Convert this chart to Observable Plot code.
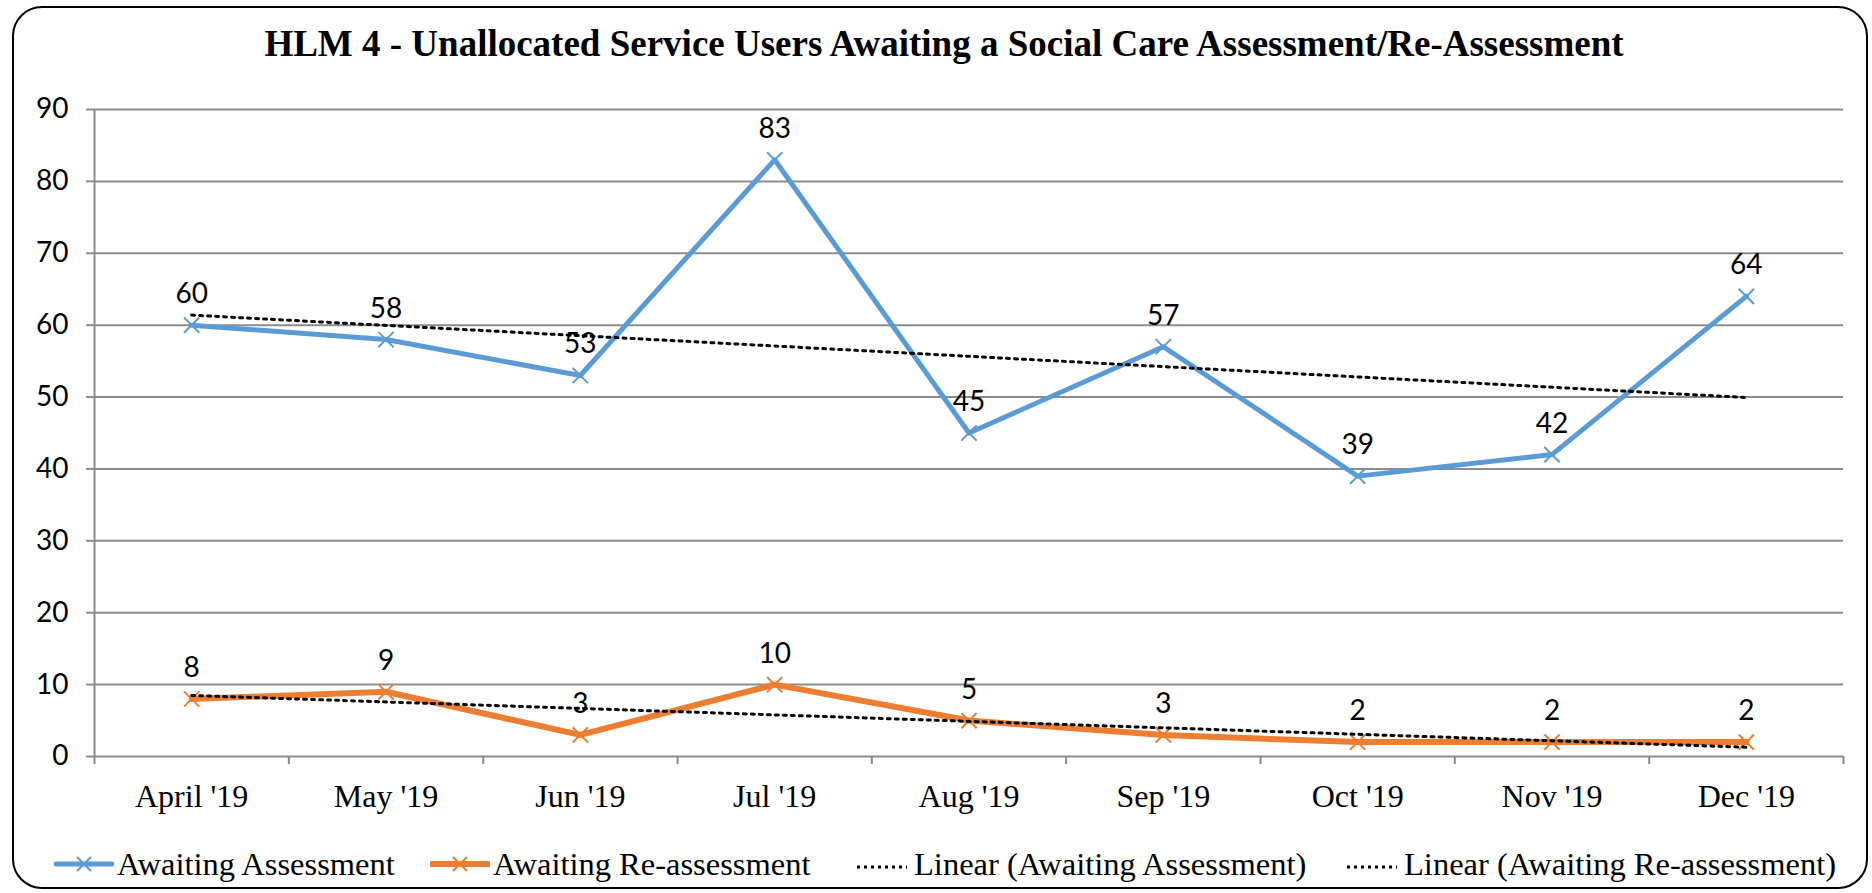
<!DOCTYPE html>
<html>
<head>
<meta charset="utf-8">
<script src="https://cdn.jsdelivr.net/npm/d3@7"></script>
<script src="https://cdn.jsdelivr.net/npm/@observablehq/plot@0.6"></script>
<style>
  html, body { margin: 0; padding: 0; background: #fff; }
  #wrap { position: relative; width: 1872px; height: 893px; overflow: hidden; background: #fff; }
  #frame { position: absolute; left: 12px; top: 6px; width: 1856px; height: 883px; box-sizing: border-box;
           border: 2px solid #000; border-radius: 30px; }
  #title { position: absolute; left: 0; width: 1888px; top: 22px; text-align: center;
           font-family: "Liberation Serif", "Times New Roman", serif; font-weight: bold; font-size: 37px; color: #000; }
  #chart { position: absolute; left: 0; top: 0; }
  .leg { position: absolute; top: 846px; height: 36px; display: flex; align-items: center;
         font-family: "Liberation Serif", "Times New Roman", serif; font-size: 32.5px; color: #000; white-space: nowrap; }
  .leg svg { margin-right: 3px; }
</style>
</head>
<body>
<div id="wrap">
  <div id="frame"></div>
  <div id="title">HLM 4 - Unallocated Service Users Awaiting a Social Care Assessment/Re-Assessment</div>
  <div id="chart"></div>
  <div id="legend"></div>
</div>
<script>
// ---- data ----
const months = ["April '19", "May '19", "Jun '19", "Jul '19", "Aug '19", "Sep '19", "Oct '19", "Nov '19", "Dec '19"];
const assessment = [60, 58, 53, 83, 45, 57, 39, 42, 64];
const reassessment = [8, 9, 3, 10, 5, 3, 2, 2, 2];
const yTicks = [0, 10, 20, 30, 40, 50, 60, 70, 80, 90];
const seriesNames = ["Awaiting Assessment", "Awaiting Re-assessment", "Linear (Awaiting Assessment)", "Linear (Awaiting Re-assessment)"];
const colors = ["#5B9BD5", "#ED7D31"];

const rows = months.map((m, i) => ({i, month: m, a: assessment[i], r: reassessment[i]}));
const idx = d3.range(months.length);
const bounds = d3.range(months.length + 1).map(k => k - 0.5);

const gray = "#8c8c8c";
const dotted = {stroke: "#000", strokeWidth: 3, strokeDasharray: "3,5", ci: 0};

const chart = Plot.plot({
  width: 1872, height: 893,
  marginLeft: 94, marginRight: 29, marginTop: 109, marginBottom: 137,
  x: {type: "linear", domain: [-0.5, months.length - 0.5]},
  y: {domain: [0, 90]},
  style: {background: "transparent", fontFamily: "Lato, 'Open Sans', sans-serif", color: "#000"},
  marks: [
    Plot.gridY(yTicks, {stroke: gray, strokeOpacity: 1, strokeWidth: 2}),
    Plot.axisY(yTicks, {tickSize: 8, tickPadding: 18, fontSize: 28, stroke: gray, strokeWidth: 2, label: null}),
    Plot.ruleX([-0.5], {stroke: gray, strokeWidth: 2}),
    Plot.axisX(bounds, {tickSize: 8, tickFormat: () => "", stroke: gray, strokeWidth: 2, label: null}),
    Plot.axisX(idx, {tickSize: 0, tickPadding: 28, tickFormat: i => months[i], fontSize: 32,
                     fontFamily: "'Liberation Serif', 'Times New Roman', serif", label: null}),
    Plot.line(rows, {x: "i", y: "a", stroke: colors[0], strokeWidth: 5}),
    Plot.line(rows, {x: "i", y: "r", stroke: colors[1], strokeWidth: 6}),
    Plot.dot(rows, {x: "i", y: "a", symbol: "times", r: 7, stroke: colors[0], strokeWidth: 2}),
    Plot.dot(rows, {x: "i", y: "r", symbol: "times", r: 7, stroke: colors[1], strokeWidth: 2}),
    Plot.linearRegressionY(rows, {x: "i", y: "a", ...dotted}),
    Plot.linearRegressionY(rows, {x: "i", y: "r", ...dotted}),
    Plot.text(rows, {x: "i", y: "a", text: "a", dy: -31, fontSize: 28, fill: "#000"}),
    Plot.text(rows, {x: "i", y: "r", text: "r", dy: -31, fontSize: 28, fill: "#000"})
  ]
});
document.getElementById("chart").appendChild(chart);

// ---- legend ----
const legend = document.getElementById("legend");
const legLeft = [54, 430, 851, 1341];
seriesNames.forEach((name, k) => {
  const item = document.createElement("div");
  item.className = "leg";
  item.style.left = legLeft[k] + "px";
  const svg = d3.create("svg").attr("width", 60).attr("height", 30);
  if (k < 2) {
    svg.append("line").attr("x1", 2).attr("x2", 58).attr("y1", 15).attr("y2", 15)
      .attr("stroke", colors[k]).attr("stroke-width", k === 0 ? 5 : 6).attr("stroke-linecap", "round");
    svg.append("path").attr("d", "M23,8L37,22M37,8L23,22").attr("stroke", colors[k]).attr("stroke-width", 2);
  } else {
    svg.append("line").attr("x1", 6).attr("x2", 56).attr("y1", 18).attr("y2", 18)
      .attr("stroke", "#000").attr("stroke-width", 3).attr("stroke-dasharray", "3,4");
  }
  item.appendChild(svg.node());
  const span = document.createElement("span");
  span.textContent = name;
  item.appendChild(span);
  legend.appendChild(item);
});
</script>
</body>
</html>
